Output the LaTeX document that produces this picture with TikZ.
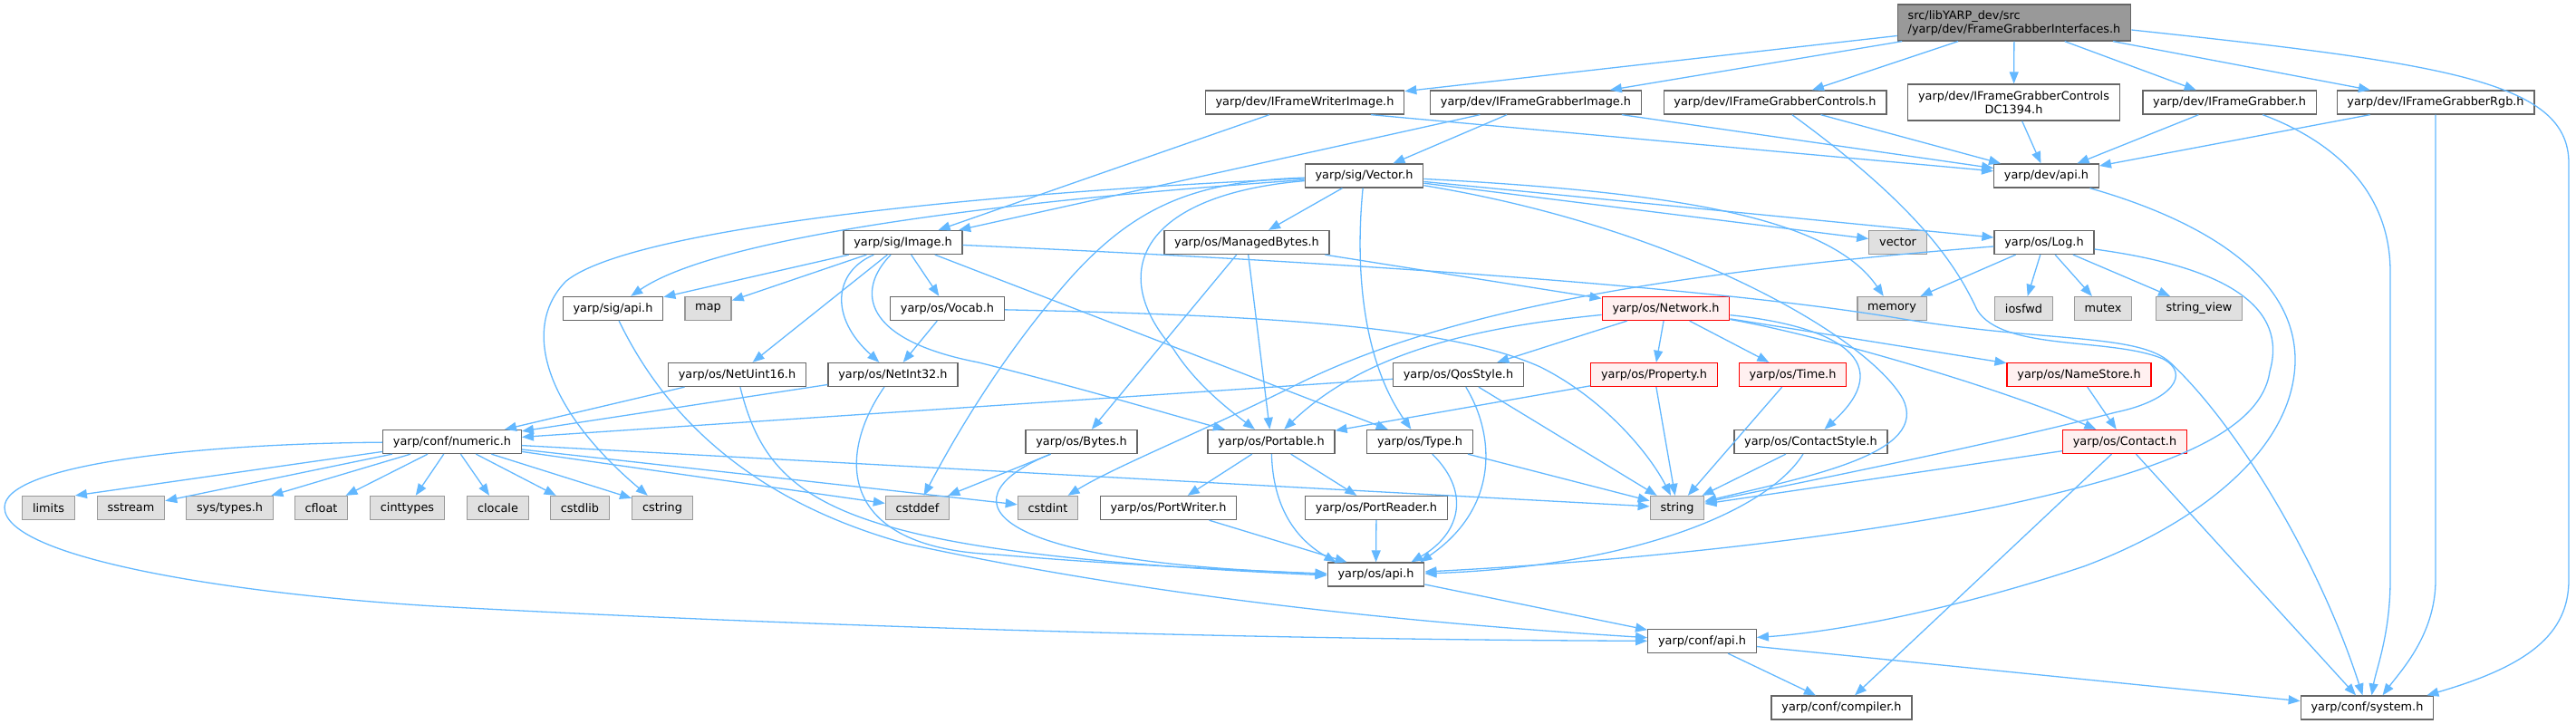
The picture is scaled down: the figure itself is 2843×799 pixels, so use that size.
\documentclass[tikz,border=0pt]{standalone}
\usepackage{fontspec}
\setmainfont{DejaVu Sans}
\usepackage{xcolor}
\usepackage{tikz}
\usetikzlibrary{arrows.meta}
\definecolor{edgeblue}{RGB}{99, 184, 255}
\definecolor{boxgray}{RGB}{102, 102, 102}
\definecolor{extgray}{RGB}{153, 153, 153}
\definecolor{extfill}{RGB}{224, 224, 224}
\definecolor{focusfill}{RGB}{153, 153, 153}
\definecolor{truncfill}{RGB}{255, 240, 240}

\begin{document}
\begin{tikzpicture}[
    x=1pt, y=-1pt,
    every node/.style={font=\fontsize{12.85}{15}\selectfont, inner xsep=11.3pt, inner ysep=0pt, minimum height=26pt},
    hdr/.style={rectangle, draw=boxgray, fill=white, line width=1.3pt},
    sysh/.style={rectangle, draw=extgray, fill=extfill, line width=1.3pt},
    trunc/.style={rectangle, draw=red, fill=truncfill, line width=1.3pt},
    focus/.style={rectangle, draw=boxgray, fill=focusfill, line width=1.3pt, minimum height=40pt, align=left},
    dep/.style={-{Triangle[length=13pt, width=10pt]}, edgeblue, line width=1.3pt}
]
    \useasboundingbox (0,0) rectangle (2843,799);

    % Nodes
    \node (root) [focus] at (2223,25) {src/libYARP\_dev/src\\/yarp/dev/FrameGrabberInterfaces.h};

    \node (fwi) [hdr] at (1440,113) {yarp/dev/IFrameWriterImage.h};
    \node (fgi) [hdr] at (1695,113) {yarp/dev/IFrameGrabberImage.h};
    \node (fgc) [hdr] at (1959,113) {yarp/dev/IFrameGrabberControls.h};
    \node (dc) [hdr, minimum height=40pt, align=center] at (2222.5,113) {yarp/dev/IFrameGrabberControls\\DC1394.h};
    \node (fg) [hdr] at (2460.5,113) {yarp/dev/IFrameGrabber.h};
    \node (fgr) [hdr] at (2688,113) {yarp/dev/IFrameGrabberRgb.h};

    \node (vec) [hdr] at (1505.5,194) {yarp/sig/Vector.h};
    \node (devapi) [hdr] at (2258.5,194) {yarp/dev/api.h};

    \node (img) [hdr] at (996.5,267.5) {yarp/sig/Image.h};
    \node (mb) [hdr] at (1376,267.5) {yarp/os/ManagedBytes.h};
    \node (vector) [sysh] at (2094.5,267.5) {vector};
    \node (log) [hdr] at (2256,267.5) {yarp/os/Log.h};

    \node (sigapi) [hdr] at (676.5,340.5) {yarp/sig/api.h};
    \node (map) [sysh] at (781.5,340.5) {map};
    \node (vocab) [hdr] at (1045.5,340.5) {yarp/os/Vocab.h};
    \node (net) [trunc] at (1838.5,340.5) {yarp/os/Network.h};
    \node (memory) [sysh] at (2088,340.5) {memory};
    \node (iosfwd) [sysh] at (2233.5,340.5) {iosfwd};
    \node (mutex) [sysh] at (2321,340.5) {mutex};
    \node (strview) [sysh] at (2427,340.5) {string\_view};

    \node (nu16) [hdr] at (813.5,413.5) {yarp/os/NetUint16.h};
    \node (ni32) [hdr] at (985.5,413.5) {yarp/os/NetInt32.h};
    \node (qos) [hdr] at (1609.5,413.5) {yarp/os/QosStyle.h};
    \node (prop) [trunc] at (1825.5,413.5) {yarp/os/Property.h};
    \node (time) [trunc] at (1978.5,413.5) {yarp/os/Time.h};
    \node (names) [trunc] at (2294.5,413.5) {yarp/os/NameStore.h};

    \node (numeric) [hdr] at (499,487.5) {yarp/conf/numeric.h};
    \node (bytes) [hdr] at (1193.5,487.5) {yarp/os/Bytes.h};
    \node (port) [hdr] at (1403,487.5) {yarp/os/Portable.h};
    \node (type) [hdr] at (1567,487.5) {yarp/os/Type.h};
    \node (cstyle) [hdr] at (1998.5,487.5) {yarp/os/ContactStyle.h};
    \node (contact) [trunc] at (2345,487.5) {yarp/os/Contact.h};

    \node (limits) [sysh] at (53.5,560.5) {limits};
    \node (sstream) [sysh] at (144.5,560.5) {sstream};
    \node (systypes) [sysh] at (253.5,560.5) {sys/types.h};
    \node (cfloat) [sysh] at (354.5,560.5) {cfloat};
    \node (cinttypes) [sysh] at (449.5,560.5) {cinttypes};
    \node (clocale) [sysh] at (549.5,560.5) {clocale};
    \node (cstdlib) [sysh] at (640,560.5) {cstdlib};
    \node (cstring) [sysh] at (731,560.5) {cstring};
    \node (cstddef) [sysh] at (1012.5,560.5) {cstddef};
    \node (cstdint) [sysh] at (1156.5,560.5) {cstdint};
    \node (pw) [hdr] at (1289.5,560.5) {yarp/os/PortWriter.h};
    \node (pr) [hdr] at (1519,560.5) {yarp/os/PortReader.h};
    \node (string) [sysh] at (1851,560.5) {string};

    \node (osapi) [hdr] at (1518.5,634) {yarp/os/api.h};
    \node (confapi) [hdr] at (1878.5,707.5) {yarp/conf/api.h};
    \node (compiler) [hdr] at (2032.5,781) {yarp/conf/compiler.h};
    \node (system) [hdr] at (2612.5,781) {yarp/conf/system.h};

    % Connections
    \draw [dep] (root) -- (fwi);
    \draw [dep] (root) -- (fgi);
    \draw [dep] (root) -- (fgc);
    \draw [dep] (root) -- (dc);
    \draw [dep] (root) -- (fg);
    \draw [dep] (root) -- (fgr);
    \draw [dep] ([yshift=-8pt]root.east) .. controls (2700,70) and (2835,90) .. (2835,180) -- (2835,640) .. controls (2835,700) and (2790,735) .. ([xshift=-8pt]system.north east);

    \draw [dep] (fwi) -- (img);
    \draw [dep] ([xshift=73pt]fwi.south) -- (devapi);
    \draw [dep] (fgi) -- (img);
    \draw [dep] (fgi) -- (vec);
    \draw [dep] (fgi) -- (devapi);
    \draw [dep] (fgc) -- (devapi);
    \draw [dep] (fgc) .. controls (2120,230) and (2160,295) .. (2182,342) .. controls (2210,388) and (2330,372) .. (2387,396) .. controls (2418,412) and (2398,442) .. (2335,455) .. controls (2200,490) and (2000,530) .. (string);
    \draw [dep] (dc) -- (devapi);
    \draw [dep] (fg) -- (devapi);
    \draw [dep] (fg) .. controls (2560,150) and (2638,200) .. (2638,300) -- (2638,640) .. controls (2638,700) and (2622,740) .. ([xshift=5pt]system.north);
    \draw [dep] (fgr) -- (devapi);
    \draw [dep] (fgr) -- (2688,640) .. controls (2688,700) and (2650,740) .. ([xshift=17pt]system.north);
    \draw [dep] (devapi) .. controls (2420,240) and (2535,300) .. (2533,400) .. controls (2530,500) and (2420,580) .. (2300,625) .. controls (2150,675) and (2020,698) .. (confapi);

    \draw [dep] (vec) .. controls (1100,222) and (790,262) .. (sigapi);
    \draw [dep] (vec) .. controls (1100,212) and (700,250) .. (625,310) .. controls (575,360) and (600,450) .. (cstring);
    \draw [dep] (vec) .. controls (1320,200) and (1250,225) .. (1170,320) .. controls (1110,390) and (1060,470) .. (cstddef);
    \draw [dep] (vec) .. controls (1260,215) and (1220,300) .. (1295,385) .. controls (1320,425) and (1360,455) .. (port);
    \draw [dep] (vec) -- (mb);
    \draw [dep] (vec) .. controls (1495,300) and (1505,400) .. (type);
    \draw [dep] (vec) -- (vector);
    \draw [dep] (vec) -- (log);
    \draw [dep] (vec) .. controls (1850,212) and (2020,240) .. (memory);
    \draw [dep] (vec) .. controls (1850,250) and (2060,370) .. (2100,440) .. controls (2130,500) and (2000,525) .. (string);

    \draw [dep] (img) -- (sigapi);
    \draw [dep] (img) -- (map);
    \draw [dep] (img) -- (nu16);
    \draw [dep] (img) .. controls (920,300) and (915,350) .. (ni32);
    \draw [dep] (img) -- (vocab);
    \draw [dep] (img) .. controls (945,320) and (950,375) .. (1080,400) .. controls (1200,430) and (1300,460) .. (port);
    \draw [dep] (img) -- (type);
    \draw [dep] (img) .. controls (1500,290) and (1900,318) .. (2100,352) .. controls (2260,378) and (2360,368) .. (2395,400) .. controls (2470,470) and (2560,620) .. ([xshift=-5pt]system.north);

    \draw [dep] (vocab) -- (ni32);
    \draw [dep] (vocab) .. controls (1400,348) and (1600,360) .. (1700,405) .. controls (1770,440) and (1820,500) .. (string);
    \draw [dep] (mb) -- (net);
    \draw [dep] (mb) -- (bytes);
    \draw [dep] (mb) -- (port);

    \draw [dep] (log) -- (memory);
    \draw [dep] (log) -- (iosfwd);
    \draw [dep] (log) -- (mutex);
    \draw [dep] (log) -- (strview);
    \draw [dep] (log) .. controls (1850,300) and (1600,340) .. (1430,425) .. controls (1330,475) and (1230,515) .. (cstdint);
    \draw [dep] (log) .. controls (2460,295) and (2525,340) .. (2505,410) .. controls (2495,480) and (2380,522) .. (2200,560) .. controls (2000,600) and (1750,622) .. ([yshift=3pt]osapi.east);

    \draw [dep] (net) -- (qos);
    \draw [dep] (net) .. controls (1640,360) and (1510,385) .. (port);
    \draw [dep] (net) -- (prop);
    \draw [dep] (net) -- (time);
    \draw [dep] (net) .. controls (2030,360) and (2095,400) .. (cstyle);
    \draw [dep] (net) -- (names);
    \draw [dep] (net) .. controls (2000,368) and (2200,425) .. (contact);

    \draw [dep] (prop) -- (port);
    \draw [dep] (prop) -- (string);
    \draw [dep] (time) -- (string);
    \draw [dep] (qos) -- (numeric);
    \draw [dep] (qos) -- (string);
    \draw [dep] (qos) .. controls (1650,480) and (1655,560) .. ([xshift=-5pt]osapi.north east);
    \draw [dep] (type) .. controls (1625,545) and (1610,590) .. ([xshift=-15pt]osapi.north east);
    \draw [dep] (type) -- (string);
    \draw [dep] (port) -- (pw);
    \draw [dep] (port) -- (pr);
    \draw [dep] (port) .. controls (1405,560) and (1430,595) .. ([xshift=-44pt]osapi.north);
    \draw [dep] (pw) -- ([xshift=-32pt]osapi.north);
    \draw [dep] (pr) -- (osapi);
    \draw [dep] (bytes) -- (cstddef);
    \draw [dep] (bytes) .. controls (1050,545) and (1060,620) .. ([yshift=1pt]osapi.west);
    \draw [dep] (ni32) -- (numeric);
    \draw [dep] (ni32) .. controls (925,500) and (920,605) .. (1100,612) .. controls (1250,625) and (1400,630) .. (osapi.west);
    \draw [dep] (nu16) -- (numeric);
    \draw [dep] (nu16) .. controls (850,560) and (930,610) .. ([yshift=-1pt]osapi.west);
    \draw [dep] (sigapi) .. controls (720,430) and (800,545) .. (1000,600) .. controls (1300,665) and (1600,690) .. (confapi);

    \draw [dep] (numeric) -- (limits.north east);
    \draw [dep] (numeric) -- (sstream);
    \draw [dep] (numeric) -- (systypes);
    \draw [dep] (numeric) -- (cfloat);
    \draw [dep] (numeric) -- (cinttypes);
    \draw [dep] (numeric) -- (clocale);
    \draw [dep] (numeric) -- (cstdlib);
    \draw [dep] (numeric) -- (cstring);
    \draw [dep] (numeric) -- (cstddef);
    \draw [dep] (numeric) -- (cstdint);
    \draw [dep] (numeric) -- (string);
    \draw [dep] (numeric) .. controls (200,490) and (5,515) .. (5,560) .. controls (5,615) and (250,655) .. (480,669) .. controls (900,692) and (1400,706) .. (confapi);

    \draw [dep] (cstyle) -- (string);
    \draw [dep] (cstyle) .. controls (1950,565) and (1800,625) .. ([yshift=1pt]osapi.east);
    \draw [dep] (names) -- (contact);
    \draw [dep] (contact) -- (string);
    \draw [dep] (contact) -- (compiler);
    \draw [dep] (contact) -- (system);
    \draw [dep] (osapi) -- (confapi);
    \draw [dep] (confapi) -- (compiler);
    \draw [dep] (confapi) -- (system);
\end{tikzpicture}
\end{document}
